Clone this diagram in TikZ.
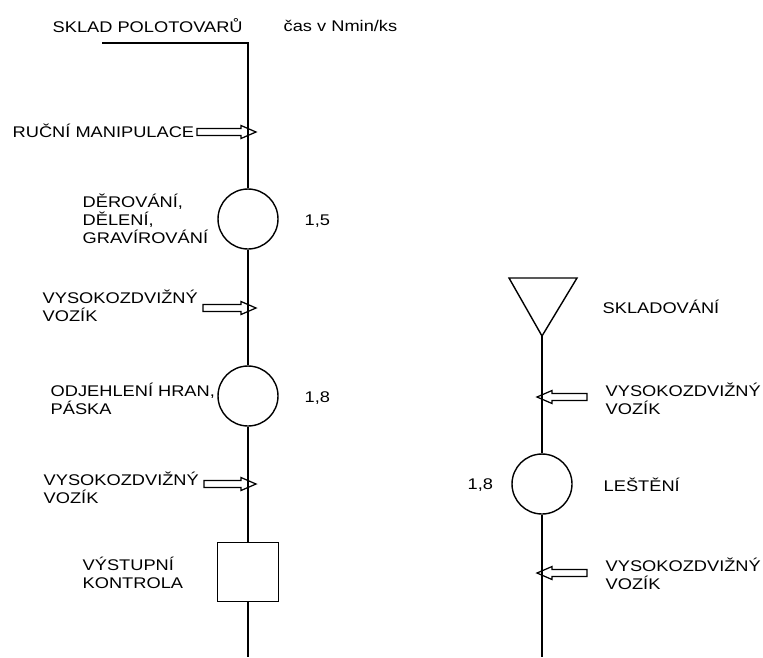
\documentclass[tikz,border=0pt]{standalone}
\usepackage{fontspec}
\setmainfont[FakeStretch=1.18]{Liberation Sans}
\tikzset{pics/handl/.style={code={
	\draw[line width=0.7pt,line join=miter] (0,0) -- (-15,-6.5) -- (-15,-3.5) -- (-#1,-3.5) -- (-#1,3.5) -- (-15,3.5) -- (-15,6.5) -- cycle;}}}
\begin{document}
\begin{tikzpicture}[x=0.02cm,y=-0.02cm,line width=0.8pt]
	\tikzstyle{lbl}=[anchor=west,inner sep=0pt,align=left,font=\fontsize{8.8}{10.2}\selectfont]
	\tikzstyle{op}=[draw,shape=circle,inner sep=0pt,minimum size=1.2cm]
	\tikzstyle{chk}=[draw,shape=rectangle,inner sep=0pt,minimum width=1.22cm,minimum height=1.18cm]
	\useasboundingbox (0,0) rectangle (763,657);

	% left column
	\node[lbl](skladpol) at (52,26){SKLAD POLOTOVARŮ};
	\node[lbl](cas) at (283,26){čas v Nmin/ks};
	\coordinate (start) at (102,43);
	\node[op](derov) at (248,219){};
	\node[op](odjeh) at (248,396){};
	\node[chk](kontr) at (248,572){};
	\coordinate (endl) at (248,657);

	\draw (start) -- (start -| derov) -- (derov.north);
	\draw (derov.south) -- (odjeh.north);
	\draw (odjeh.south) -- (kontr.north);
	\draw (kontr.south) -- (endl);

	\pic (a1) at (256,132) {handl=59};
	\pic (a2) at (256,308) {handl=53};
	\pic (a3) at (256,484) {handl=52};

	\node[lbl](rucni) at (12,131){RUČNÍ MANIPULACE};
	\node[lbl](t1) at (82,219){DĚROVÁNÍ,\\DĚLENÍ,\\GRAVÍROVÁNÍ};
	\node[lbl](n1) at (304,221){1,5};
	\node[lbl](voz1) at (42,306){VYSOKOZDVIŽNÝ\\VOZÍK};
	\node[lbl](t2) at (50,399){ODJEHLENÍ HRAN,\\PÁSKA};
	\node[lbl](n2) at (304,398){1,8};
	\node[lbl](voz2) at (43,488){VYSOKOZDVIŽNÝ\\VOZÍK};
	\node[lbl](t3) at (82,573){VÝSTUPNÍ\\KONTROLA};

	% right column
	\draw (509,278) -- (577,278) -- (542,336) coordinate (sklad) -- cycle;
	\node[op](lesten) at (542,484){};
	\coordinate (endr) at (542,657);
	\draw (sklad) -- (lesten.north);
	\draw (lesten.south) -- (endr);

	\pic[xscale=-1] (a4) at (537,397) {handl=50};
	\pic[xscale=-1] (a5) at (537,573) {handl=50};

	\node[lbl](t4) at (602,307){SKLADOVÁNÍ};
	\node[lbl](voz3) at (605,399){VYSOKOZDVIŽNÝ\\VOZÍK};
	\node[lbl](n3) at (467,485){1,8};
	\node[lbl](t5) at (603,485){LEŠTĚNÍ};
	\node[lbl](voz4) at (605,574){VYSOKOZDVIŽNÝ\\VOZÍK};
\end{tikzpicture}
\end{document}
